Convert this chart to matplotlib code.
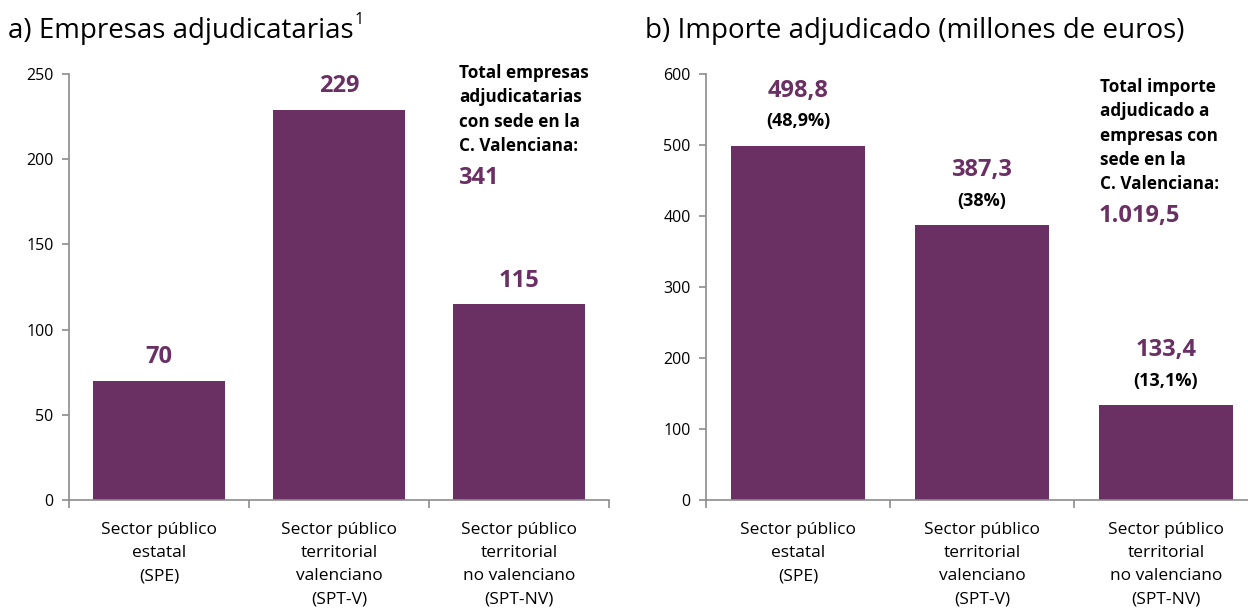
import matplotlib
matplotlib.use("Agg")
import matplotlib.pyplot as plt
import numpy as np

plt.rcParams['font.family'] = ['Open Sans', 'DejaVu Sans']

categories = ["Sector público\nestatal\n(SPE)",
              "Sector público\nterritorial\nvalenciano\n(SPT-V)",
              "Sector público\nterritorial\nno valenciano\n(SPT-NV)"]
empresas = [70, 229, 115]
empresas_labels = ["70", "229", "115"]
importe = [498.8, 387.3, 133.4]
importe_labels = ["498,8", "387,3", "133,4"]
importe_pct = ["(48,9%)", "(38%)", "(13,1%)"]
total_empresas = "341"
total_importe = "1.019,5"

PURPLE = "#6A3064"
AXC = "#8C8C8C"

fig = plt.figure(figsize=(12.48, 6.12), dpi=100)
W, H = 1248, 612

def px_axes(x0, x1, y_top, y_bot):
    return fig.add_axes([x0 / W, 1 - y_bot / H, (x1 - x0) / W, (y_bot - y_top) / H])

ax1 = px_axes(69, 609, 74, 500)
ax2 = px_axes(706, 1258, 74, 500)

def style(ax, ymax, step):
    ax.set_xlim(-0.5, 2.5)
    ax.set_ylim(0, ymax)
    ax.set_yticks(np.arange(0, ymax + 1, step))
    for s in ['top', 'right']:
        ax.spines[s].set_visible(False)
    for s in ['left', 'bottom']:
        ax.spines[s].set_color(AXC)
        ax.spines[s].set_linewidth(1.2)
    ax.tick_params(axis='y', colors=AXC, labelcolor='black', labelsize=11.5, length=5, width=1.2, pad=6)
    ax.set_xticks([0, 1, 2])
    ax.set_xticklabels(categories, fontsize=12.5, linespacing=1.62)
    ax.tick_params(axis='x', length=0, pad=15.5)
    ax.set_xticks([-0.5, 0.5, 1.5, 2.5], minor=True)
    ax.tick_params(axis='x', which='minor', length=6, width=1.2, colors=AXC)
    ax.spines['bottom'].set_clip_on(False)

x = np.arange(3)
ax1.bar(x, empresas, width=0.73, color=PURPLE)
style(ax1, 250, 50)
for xi, v, lab in zip(x, empresas, empresas_labels):
    ax1.annotate(lab, (xi, v), xytext=(0, 12.5), textcoords='offset points',
                 ha='center', va='baseline', fontsize=17, fontweight='bold', color=PURPLE)

ax2.bar(x, importe, width=0.73, color=PURPLE)
style(ax2, 600, 100)
for xi, v, lab, pct in zip(x, importe, importe_labels, importe_pct):
    ax2.annotate(pct, (xi, v), xytext=(0, 14), textcoords='offset points',
                 ha='center', va='baseline', fontsize=13, fontweight='bold', color='black')
    ax2.annotate(lab, (xi, v), xytext=(0, 35.5), textcoords='offset points',
                 ha='center', va='baseline', fontsize=17, fontweight='bold', color=PURPLE)

# Titles
t1 = fig.text(8 / W, 1 - 38 / H, "a) Empresas adjudicatarias", fontsize=20, va='baseline', ha='left')
fig.canvas.draw()
bb = t1.get_window_extent()
fig.text(bb.x1 / W + 0.001, 1 - 24 / H, "1", fontsize=11.5, va='baseline', ha='left')
fig.text(645 / W, 1 - 38 / H, "b) Importe adjudicado (millones de euros)", fontsize=20, va='baseline', ha='left')

# Totals annotations
fig.text(459 / W, 1 - 64 / H, "Total empresas\nadjudicatarias\ncon sede en la\nC. Valenciana:",
         fontsize=12.3, fontweight='bold', va='top', ha='left', linespacing=1.45)
fig.text(458 / W, 1 - 184 / H, total_empresas, fontsize=17, fontweight='bold', color=PURPLE,
         va='baseline', ha='left')
fig.text(1100 / W, 1 - 78 / H, "Total importe\nadjudicado a\nempresas con\nsede en la\nC. Valenciana:",
         fontsize=12.3, fontweight='bold', va='top', ha='left', linespacing=1.45)
fig.text(1099 / W, 1 - 222 / H, total_importe, fontsize=17, fontweight='bold', color=PURPLE,
         va='baseline', ha='left')

fig.savefig("out.png", dpi=100)
